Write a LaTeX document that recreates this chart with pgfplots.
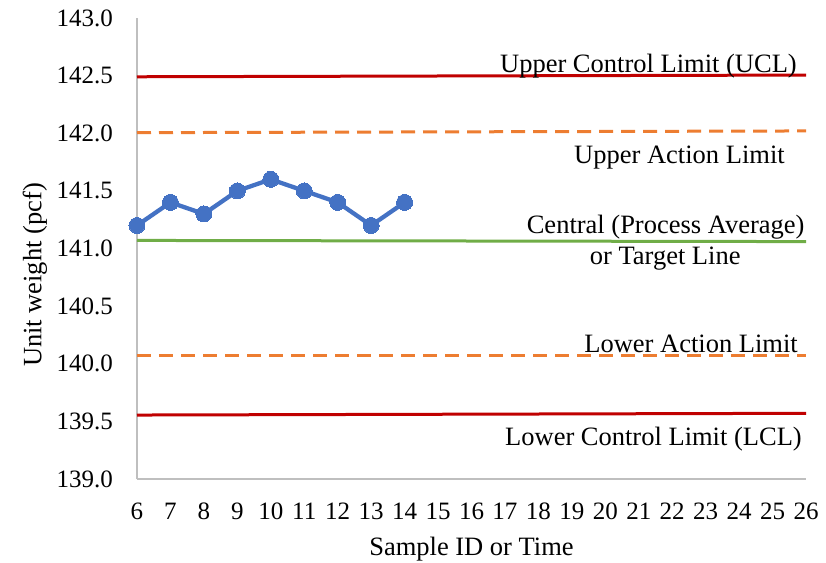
\documentclass[border=0pt]{standalone}
\usepackage{fontspec}
\setmainfont{Liberation Serif}
\usepackage{pgfplots}
\pgfplotsset{compat=1.18}
\definecolor{uclred}{HTML}{C00000}
\definecolor{actorange}{HTML}{ED7D31}
\definecolor{cengreen}{HTML}{70AD47}
\definecolor{datblue}{HTML}{4472C4}
\definecolor{axgray}{HTML}{BFBFBF}
\newcommand{\lblfont}{\fontsize{26.5}{30}\selectfont}
\begin{document}
\begin{tikzpicture}
\path[use as bounding box] (-137pt,-83pt) rectangle (689pt,479pt);
\begin{axis}[
  at={(0,0)}, anchor=south west,
  scale only axis, width=669pt, height=461pt,
  xmin=6, xmax=26, ymin=139, ymax=143,
  xtick={6,...,26}, ytick={139,139.5,...,143},
  axis lines*=left,
  axis line style={draw=axgray, line width=1.2pt},
  major tick length=0pt,
  clip=false,
  font=\fontsize{25}{29}\selectfont,
  /pgf/number format/assume math mode=true,
  /pgf/number format/1000 sep={},
  y tick label style={/pgf/number format/.cd, fixed, fixed zerofill, precision=1, /tikz/.cd, anchor=east, inner sep=0pt, xshift=-24pt},
  x tick label style={anchor=north, inner sep=0pt, yshift=-24pt},
]
\addplot[uclred, line width=3pt] coordinates {(6,142.49) (26,142.505)};
\addplot[actorange, line width=3pt, dash pattern=on 14pt off 8pt] coordinates {(6,142.005) (26,142.02)};
\addplot[cengreen, line width=3pt] coordinates {(6,141.07) (26,141.06)};
\addplot[actorange, line width=3pt, dash pattern=on 14pt off 8pt] coordinates {(6,140.075) (26,140.075)};
\addplot[uclred, line width=3pt] coordinates {(6,139.555) (26,139.57)};
\addplot[datblue, line width=4.3pt, mark=*, mark size=8pt, mark options={fill=datblue, draw=datblue, line width=0pt}] coordinates {
(6,141.2) (7,141.4) (8,141.3) (9,141.5) (10,141.6) (11,141.5) (12,141.4) (13,141.2) (14,141.4)};
\node[anchor=base east, inner sep=0pt, font=\lblfont] at (axis cs:25.73,142.53) {Upper Control Limit (UCL)};
\node[anchor=base east, inner sep=0pt, font=\lblfont] at (axis cs:25.37,141.74) {Upper Action Limit};
\node[anchor=base east, inner sep=0pt, font=\lblfont] at (axis cs:25.96,141.13) {Central (Process Average)};
\node[anchor=base, inner sep=0pt, font=\lblfont] at (axis cs:21.79,140.857) {or Target Line};
\node[anchor=base east, inner sep=0pt, font=\lblfont] at (axis cs:25.76,140.10) {Lower Action Limit};
\node[anchor=base east, inner sep=0pt, font=\lblfont] at (axis cs:25.88,139.29) {Lower Control Limit (LCL)};
\node[anchor=base, inner sep=0pt, yshift=-76pt, font=\lblfont] at (axis description cs:0.5,0) {Sample ID or Time};
\node[xshift=-102pt, rotate=90, anchor=center, inner sep=0pt, font=\lblfont] at (axis description cs:0,0.4425) {Unit weight (pcf)};
\end{axis}
\end{tikzpicture}
\end{document}
